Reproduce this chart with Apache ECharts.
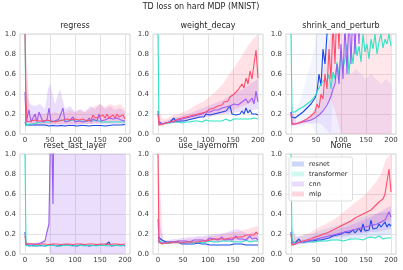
<!DOCTYPE html>
<html><head><meta charset="utf-8">
<script src="https://cdn.jsdelivr.net/npm/echarts@6/dist/echarts.min.js"></script>
<style>html,body{margin:0;padding:0;background:#fff}#c{width:403px;height:270px}</style>
</head><body><div id="c"></div>
<script>
// ---------- data ----------
const TITLE = 'TD loss on hard MDP (MNIST)';
const PANELS = ['regress','weight_decay','shrink_and_perturb','reset_last_layer','use_layernorm','None'];
const MODELS = ['resnet','transformer','cnn','mlp'];
const X_TICKS = [0,50,100,150,200];
// training steps sampled
const X = [0,2,4,8,12,16,20,24,28,32,36,40,44,48,52,56,60,64,68,72,76,80,84,88,92,96,100,104,108,112,116,120,124,128,132,136,140,144,148,152,156,160,164,168,172,176,180,184,188,192,196,200];
// band steps
const BX = [0,10,20,30,40,46,50,60,70,80,90,100,110,120,130,140,150,160,170,180,190,200];

// regress
const regress_resnet = [0.12,0.09,
0.08,0.09,0.085,0.09,0.08,0.09,0.085,0.09,0.08,0.09,
0.085,0.08,0.09,0.085,0.09,0.08,0.09,0.085,0.09,0.08,
0.09,0.085,0.09,0.085,0.09,0.08,0.09,0.085,0.09,0.085,
0.09,0.08,0.09,0.085,0.09,0.085,0.09,0.085,0.09,0.08,
0.09,0.085,0.09,0.09,0.085,0.09,0.095,0.09,0.1,0.095];
const regress_transformer = [1.0,0.08,
0.09,0.1,0.11,0.1,0.12,0.11,0.1,0.12,0.11,0.12,
0.13,0.12,0.11,0.13,0.12,0.13,0.12,0.14,0.12,0.13,
0.12,0.13,0.12,0.14,0.12,0.13,0.12,0.13,0.12,0.13,
0.12,0.13,0.12,0.13,0.12,0.14,0.13,0.12,0.13,0.12,
0.13,0.12,0.13,0.12,0.13,0.12,0.13,0.12,0.13,0.12];
const regress_cnn = [0.42,0.12,
0.14,0.24,0.12,0.14,0.2,0.12,0.22,0.21,0.12,0.13,
0.14,0.26,0.12,0.14,0.13,0.12,0.15,0.13,0.26,0.12,
0.14,0.13,0.12,0.17,0.12,0.14,0.13,0.15,0.12,0.14,
0.13,0.16,0.12,0.15,0.14,0.13,0.2,0.13,0.15,0.14,
0.13,0.16,0.14,0.15,0.13,0.16,0.15,0.14,0.16,0.13];
const regress_mlp = [1.0,0.35,
0.12,0.1,0.13,0.12,0.14,0.12,0.13,0.11,0.13,0.12,
0.14,0.12,0.13,0.15,0.12,0.14,0.13,0.12,0.14,0.13,
0.15,0.13,0.14,0.13,0.15,0.13,0.14,0.12,0.15,0.14,
0.13,0.15,0.14,0.19,0.16,0.15,0.17,0.15,0.19,0.16,
0.2,0.16,0.17,0.19,0.16,0.2,0.17,0.18,0.19,0.15];

// weight_decay
const wd_resnet = [0.23,0.12,
0.1,0.1,0.11,0.11,0.12,0.12,0.11,0.16,0.12,0.13,
0.13,0.14,0.13,0.15,0.14,0.16,0.15,0.17,0.16,0.18,
0.17,0.19,0.17,0.2,0.18,0.19,0.17,0.2,0.18,0.21,
0.19,0.22,0.2,0.23,0.21,0.28,0.2,0.22,0.19,0.21,
0.2,0.23,0.2,0.26,0.21,0.24,0.2,0.22,0.2,0.19];
const wd_transformer = [1.0,0.1,
0.09,0.1,0.1,0.11,0.1,0.11,0.11,0.12,0.11,0.12,
0.12,0.11,0.12,0.12,0.13,0.12,0.12,0.13,0.12,0.13,
0.13,0.12,0.13,0.14,0.13,0.13,0.14,0.13,0.14,0.13,
0.14,0.13,0.14,0.15,0.14,0.13,0.14,0.15,0.14,0.15,
0.14,0.15,0.14,0.15,0.16,0.15,0.14,0.16,0.15,0.15];
const wd_cnn = [0.12,0.1,
0.1,0.1,0.11,0.11,0.12,0.12,0.13,0.12,0.13,0.14,
0.14,0.15,0.14,0.16,0.15,0.17,0.16,0.18,0.17,0.19,
0.19,0.2,0.2,0.22,0.21,0.22,0.21,0.24,0.22,0.24,
0.23,0.26,0.24,0.27,0.26,0.28,0.26,0.3,0.28,0.29,
0.3,0.32,0.3,0.35,0.31,0.33,0.36,0.3,0.43,0.32];
const wd_mlp = [0.2,0.09,
0.09,0.1,0.11,0.11,0.12,0.12,0.13,0.13,0.14,0.15,
0.15,0.16,0.16,0.17,0.18,0.18,0.2,0.19,0.21,0.2,
0.22,0.21,0.23,0.22,0.24,0.25,0.23,0.26,0.27,0.28,
0.3,0.29,0.32,0.34,0.33,0.37,0.35,0.4,0.38,0.44,
0.42,0.5,0.46,0.56,0.5,0.63,0.55,0.7,0.84,0.56];

// shrink_and_perturb
const sp_resnet = [0.22,0.17,
0.15,0.16,0.18,0.19,0.2,0.22,0.24,0.26,0.28,0.3,
0.33,0.36,0.42,0.6,0.48,0.85,0.7,1.0,1.2,1.5,
1.7,1.6,1.9,1.8,2.1,2.0,2.3,2.2,2.5,2.4,
2.6,2.5,2.8,2.7,3.0,2.9,3.1,3.0,3.2,3.1,
3.3,3.2,3.4,3.3,3.5,3.4,3.6,3.5,3.7,3.6];
const sp_transformer = [1.0,0.22,
0.2,0.22,0.21,0.25,0.24,0.27,0.26,0.3,0.29,0.33,
0.35,0.38,0.42,0.46,0.5,0.48,0.55,0.52,0.6,0.45,
0.62,0.55,0.72,0.58,0.8,0.65,0.75,0.9,0.6,0.85,
0.7,0.95,0.78,0.88,0.72,1.0,0.82,0.9,0.75,0.95,
0.85,1.0,0.8,0.92,1.0,0.86,0.95,0.9,1.0,0.88];
const sp_cnn = [0.22,0.1,
0.09,0.1,0.1,0.11,0.11,0.12,0.12,0.13,0.13,0.14,
0.15,0.16,0.17,0.19,0.21,0.23,0.26,0.29,0.33,0.38,
0.45,0.5,0.7,0.5,0.9,0.55,1.1,0.6,1.2,0.7,
1.3,0.8,1.4,0.9,1.6,1.3,1.8,1.5,2.0,1.8,
2.2,2.0,2.4,2.2,2.6,2.4,2.8,2.6,3.0,2.8];
const sp_mlp = [0.2,0.1,
0.1,0.1,0.11,0.11,0.12,0.13,0.14,0.15,0.16,0.18,
0.2,0.22,0.3,0.26,0.4,0.35,0.6,0.45,0.85,0.55,
1.1,0.7,1.3,0.85,1.5,1.1,1.8,1.4,2.0,1.6,
2.2,1.8,2.4,2.0,2.6,2.2,2.8,2.4,3.0,2.6,
2.8,3.2,3.0,3.4,3.2,3.6,3.4,3.8,3.6,4.0];

// reset_last_layer
const rl_resnet = [0.22,0.1,
0.09,0.08,0.09,0.085,0.09,0.08,0.09,0.085,0.09,0.08,
0.085,0.09,0.08,0.09,0.085,0.08,0.09,0.085,0.08,0.09,
0.085,0.09,0.08,0.085,0.09,0.08,0.085,0.09,0.08,0.09,
0.085,0.08,0.09,0.085,0.08,0.09,0.085,0.09,0.08,0.085,
0.09,0.12,0.08,0.09,0.085,0.08,0.09,0.085,0.09,0.08];
const rl_transformer = [1.0,0.08,
0.08,0.09,0.085,0.08,0.09,0.085,0.08,0.09,0.085,0.08,
0.09,0.085,0.08,0.09,0.085,0.08,0.09,0.08,0.085,0.09,
0.08,0.085,0.09,0.08,0.085,0.09,0.08,0.085,0.09,0.08,
0.085,0.09,0.08,0.085,0.09,0.08,0.085,0.09,0.08,0.085,
0.09,0.08,0.085,0.09,0.08,0.085,0.09,0.08,0.085,0.09];
const rl_cnn = [0.1,0.1,
0.1,0.1,0.1,0.1,0.1,0.1,0.1,0.11,0.12,0.13,
0.22,0.3,1.6,0.5,2.5,3.0,2.8,3.3,3.1,3.5,
3.4,3.6,3.2,3.8,3.5,3.7,3.9,3.6,4.0,3.8,
4.1,3.9,4.2,4.0,4.3,4.1,4.4,4.2,4.5,4.3,
4.6,4.4,4.7,4.5,4.8,4.6,4.9,4.7,5.0,4.8];
const rl_mlp = [0.18,0.1,
0.1,0.1,0.095,0.1,0.1,0.095,0.1,0.1,0.095,0.1,
0.1,0.095,0.1,0.1,0.095,0.1,0.1,0.095,0.1,0.1,
0.095,0.1,0.1,0.095,0.1,0.1,0.095,0.1,0.1,0.095,
0.1,0.1,0.095,0.1,0.1,0.095,0.1,0.1,0.095,0.1,
0.1,0.095,0.1,0.1,0.095,0.1,0.1,0.095,0.1,0.1];

// use_layernorm
const ln_resnet = [0.17,0.16,
0.15,0.14,0.13,0.12,0.13,0.12,0.11,0.12,0.11,0.12,
0.11,0.1,0.11,0.1,0.11,0.1,0.11,0.1,0.1,0.11,
0.1,0.1,0.09,0.1,0.1,0.09,0.1,0.09,0.1,0.09,
0.1,0.09,0.1,0.09,0.1,0.09,0.09,0.1,0.09,0.1,
0.09,0.1,0.09,0.09,0.1,0.09,0.1,0.09,0.09,0.09];
const ln_transformer = [0.14,0.15,
0.13,0.12,0.12,0.11,0.12,0.11,0.12,0.12,0.11,0.12,
0.12,0.11,0.12,0.12,0.11,0.12,0.12,0.11,0.12,0.12,
0.12,0.11,0.12,0.12,0.12,0.13,0.12,0.12,0.13,0.12,
0.12,0.13,0.12,0.13,0.12,0.13,0.13,0.12,0.13,0.12,
0.13,0.12,0.13,0.14,0.13,0.12,0.14,0.13,0.14,0.13];
const ln_cnn = [0.35,0.12,
0.11,0.11,0.11,0.11,0.12,0.12,0.11,0.12,0.12,0.13,
0.12,0.13,0.12,0.13,0.14,0.12,0.13,0.14,0.13,0.14,
0.13,0.14,0.15,0.13,0.14,0.16,0.14,0.15,0.16,0.14,
0.15,0.17,0.14,0.16,0.15,0.17,0.14,0.16,0.18,0.15,
0.16,0.15,0.17,0.14,0.16,0.18,0.15,0.17,0.16,0.14];
const ln_mlp = [1.0,0.12,
0.1,0.1,0.1,0.11,0.11,0.11,0.11,0.12,0.11,0.12,
0.12,0.11,0.12,0.12,0.12,0.12,0.13,0.12,0.13,0.12,
0.13,0.13,0.14,0.13,0.14,0.14,0.14,0.15,0.14,0.15,
0.15,0.15,0.16,0.15,0.16,0.16,0.17,0.16,0.17,0.17,
0.18,0.17,0.18,0.19,0.18,0.19,0.2,0.19,0.22,0.2];

// None
const none_resnet = [0.22,0.12,
0.1,0.11,0.12,0.15,0.12,0.13,0.12,0.13,0.13,0.14,
0.13,0.15,0.14,0.15,0.14,0.16,0.15,0.17,0.16,0.17,
0.18,0.17,0.19,0.18,0.2,0.19,0.22,0.2,0.21,0.2,
0.24,0.21,0.22,0.26,0.22,0.3,0.23,0.25,0.24,0.34,
0.25,0.27,0.26,0.3,0.27,0.28,0.32,0.27,0.3,0.28];
const none_transformer = [1.0,0.13,
0.12,0.11,0.12,0.12,0.13,0.12,0.13,0.12,0.13,0.12,
0.13,0.12,0.13,0.13,0.12,0.13,0.14,0.13,0.13,0.14,
0.13,0.14,0.13,0.14,0.14,0.13,0.15,0.14,0.13,0.15,
0.14,0.15,0.14,0.15,0.16,0.14,0.15,0.16,0.14,0.17,
0.15,0.16,0.15,0.18,0.16,0.15,0.17,0.16,0.18,0.16];
const none_cnn = [0.12,0.1,
0.09,0.1,0.11,0.11,0.12,0.12,0.12,0.13,0.13,0.14,
0.14,0.14,0.15,0.15,0.16,0.16,0.17,0.17,0.18,0.18,
0.19,0.19,0.2,0.2,0.21,0.21,0.22,0.22,0.23,0.23,
0.24,0.24,0.25,0.25,0.26,0.27,0.27,0.28,0.28,0.29,
0.29,0.3,0.3,0.31,0.32,0.33,0.34,0.36,0.42,0.37];
const none_mlp = [0.2,0.09,
0.09,0.1,0.11,0.12,0.13,0.13,0.14,0.14,0.15,0.15,
0.16,0.17,0.17,0.18,0.19,0.2,0.21,0.21,0.22,0.23,
0.24,0.25,0.25,0.27,0.28,0.29,0.3,0.31,0.3,0.33,
0.34,0.36,0.35,0.38,0.37,0.4,0.39,0.42,0.41,0.44,
0.45,0.48,0.47,0.52,0.5,0.55,0.6,0.58,0.85,0.62];

// spread bands (lower / upper), on BX
const regress_cnn_lo = [0.1,0.08,0.08,0.08,0.08,0.09,0.08,0.08,0.08,0.08,0.09,0.09,0.09,0.1,0.1,0.1,0.1,0.1,0.1,0.1,0.1,0.1];
const regress_cnn_hi = [0.45,0.3,0.28,0.3,0.25,0.45,0.5,0.3,0.45,0.25,0.28,0.22,0.25,0.22,0.28,0.25,0.3,0.25,0.28,0.24,0.26,0.22];
const regress_mlp_lo = [0.3,0.09,0.09,0.09,0.1,0.1,0.1,0.1,0.1,0.1,0.1,0.1,0.1,0.1,0.1,0.11,0.11,0.11,0.11,0.12,0.12,0.11];
const regress_mlp_hi = [1.0,0.18,0.2,0.2,0.2,0.22,0.2,0.22,0.2,0.22,0.24,0.22,0.24,0.22,0.25,0.28,0.3,0.27,0.3,0.28,0.3,0.25];
const wd_cnn_lo = [0.08,0.09,0.1,0.11,0.12,0.12,0.13,0.14,0.15,0.16,0.17,0.17,0.18,0.19,0.2,0.2,0.21,0.22,0.22,0.23,0.24,0.25];
const wd_cnn_hi = [0.15,0.12,0.14,0.16,0.17,0.18,0.19,0.2,0.22,0.24,0.26,0.28,0.3,0.32,0.34,0.37,0.4,0.42,0.45,0.48,0.52,0.55];
const wd_mlp_lo = [0.08,0.08,0.1,0.11,0.12,0.12,0.13,0.14,0.15,0.16,0.17,0.18,0.19,0.2,0.21,0.22,0.24,0.26,0.28,0.3,0.32,0.35];
const wd_mlp_hi = [0.25,0.15,0.16,0.19,0.2,0.21,0.22,0.24,0.27,0.3,0.32,0.36,0.4,0.45,0.5,0.58,0.65,0.72,0.8,0.88,0.95,1.0];
const sp_resnet_lo = [0.15,0.12,0.12,0.12,0.1,0.05,0,0,0,0,1.1,1.1,1.1,1.1,1.1,1.1,1.1,1.1,1.1,1.1,1.1,1.1];
const sp_resnet_hi = [0.3,0.25,0.35,0.55,0.7,0.85,1.1,1.2,1.2,1.2,1.2,1.2,1.2,1.2,1.2,1.2,1.2,1.2,1.2,1.2,1.2,1.2];
const sp_cnn_lo = [0.08,0.08,0.09,0.1,0.1,0.11,0.11,0.1,0.05,0,0,0,0,0,0,0,0,0,0,0,0,0];
const sp_cnn_hi = [0.25,0.12,0.13,0.15,0.18,0.2,0.23,0.35,0.45,0.55,0.65,0.7,0.65,0.6,0.65,0.6,0.55,0.6,0.55,0.5,0.55,0.5];
const sp_mlp_lo = [0.08,0.09,0.1,0.11,0.13,0.15,0.17,0.22,0.3,0.35,0.2,0,0,0,0,0,0,0,0,0,0,0];
const sp_mlp_hi = [0.3,0.12,0.13,0.15,0.2,0.25,0.3,0.5,0.8,1.1,1.2,1.2,1.2,1.2,1.2,1.2,1.2,1.2,1.2,1.2,1.2,1.2];
const rl_cnn_lo = [0.08,0.09,0.09,0.09,0.1,0.12,0,0,0,0,0,0,0,0,0,0,0,0,0,0,0,0];
const rl_cnn_hi = [0.12,0.11,0.11,0.12,0.15,0.3,1.2,1.2,1.2,1.2,1.2,1.2,1.2,1.2,1.2,1.2,1.2,1.2,1.2,1.2,1.2,1.2];
const ln_cnn_lo = [0.1,0.1,0.1,0.1,0.1,0.1,0.1,0.11,0.11,0.11,0.11,0.12,0.12,0.12,0.12,0.12,0.12,0.12,0.12,0.12,0.12,0.12];
const ln_cnn_hi = [0.4,0.14,0.14,0.15,0.15,0.16,0.16,0.17,0.17,0.18,0.18,0.19,0.2,0.2,0.21,0.22,0.24,0.25,0.22,0.2,0.22,0.2];
const ln_mlp_lo = [0.3,0.1,0.1,0.1,0.1,0.1,0.1,0.1,0.11,0.11,0.11,0.12,0.12,0.12,0.13,0.13,0.14,0.14,0.15,0.15,0.16,0.16];
const ln_mlp_hi = [1.0,0.13,0.13,0.13,0.14,0.14,0.14,0.15,0.15,0.16,0.16,0.17,0.18,0.19,0.2,0.21,0.22,0.22,0.24,0.25,0.27,0.28];
const none_resnet_lo = [0.1,0.09,0.1,0.1,0.11,0.11,0.12,0.12,0.13,0.13,0.14,0.14,0.15,0.15,0.16,0.16,0.17,0.17,0.18,0.18,0.19,0.19];
const none_resnet_hi = [0.3,0.18,0.18,0.2,0.2,0.21,0.22,0.24,0.25,0.27,0.28,0.3,0.32,0.34,0.35,0.37,0.38,0.4,0.4,0.42,0.42,0.44];
const none_cnn_lo = [0.08,0.09,0.1,0.11,0.12,0.12,0.13,0.14,0.15,0.16,0.17,0.17,0.18,0.19,0.2,0.2,0.21,0.22,0.22,0.23,0.24,0.25];
const none_cnn_hi = [0.15,0.12,0.14,0.15,0.17,0.18,0.19,0.2,0.21,0.23,0.24,0.26,0.27,0.29,0.31,0.33,0.35,0.37,0.4,0.42,0.46,0.48];
const none_mlp_lo = [0.1,0.1,0.11,0.12,0.13,0.14,0.14,0.15,0.16,0.17,0.18,0.19,0.2,0.21,0.22,0.23,0.24,0.26,0.28,0.3,0.32,0.34];
const none_mlp_hi = [0.25,0.16,0.18,0.2,0.22,0.24,0.25,0.28,0.3,0.33,0.36,0.4,0.44,0.48,0.52,0.56,0.6,0.66,0.72,0.8,0.95,1.0];

// ---------- assembly ----------
const LINES = [
  [regress_resnet, regress_transformer, regress_cnn, regress_mlp],
  [wd_resnet, wd_transformer, wd_cnn, wd_mlp],
  [sp_resnet, sp_transformer, sp_cnn, sp_mlp],
  [rl_resnet, rl_transformer, rl_cnn, rl_mlp],
  [ln_resnet, ln_transformer, ln_cnn, ln_mlp],
  [none_resnet, none_transformer, none_cnn, none_mlp]
];
const BANDS = [
  [0,'cnn',regress_cnn_lo,regress_cnn_hi,1],[0,'mlp',regress_mlp_lo,regress_mlp_hi,1],
  [1,'cnn',wd_cnn_lo,wd_cnn_hi,1],[1,'mlp',wd_mlp_lo,wd_mlp_hi,1],
  [2,'resnet',sp_resnet_lo,sp_resnet_hi,0.5],[2,'cnn',sp_cnn_lo,sp_cnn_hi,0.6],[2,'mlp',sp_mlp_lo,sp_mlp_hi,0.75],
  [3,'cnn',rl_cnn_lo,rl_cnn_hi,1],
  [4,'cnn',ln_cnn_lo,ln_cnn_hi,1],[4,'mlp',ln_mlp_lo,ln_mlp_hi,1],
  [5,'resnet',none_resnet_lo,none_resnet_hi,1],[5,'cnn',none_cnn_lo,none_cnn_hi,1],[5,'mlp',none_mlp_lo,none_mlp_hi,1]
];
LINES.forEach((p,i)=>p.forEach((a,j)=>{ if(a.length!==X.length) throw new Error('len '+PANELS[i]+' '+MODELS[j]+' '+a.length); }));
BANDS.forEach(b=>{ if(b[2].length!==BX.length||b[3].length!==BX.length) throw new Error('band len '+b[0]+b[1]); });

const LINE_COLORS = {resnet:'#1a47e6', transformer:'#2fe3c2', cnn:'#9b5cf6', mlp:'#ff4d6d'};
const BAND_RGB = {resnet:'26,71,230', transformer:'47,227,194', cnn:'155,92,246', mlp:'255,77,109'};
const BAND_ALPHA = {resnet:0.12, transformer:0.15, cnn:0.2, mlp:0.17};
const LEGEND_COLORS = {resnet:'rgba(26,71,230,0.22)', transformer:'rgba(47,227,194,0.22)', cnn:'rgba(155,92,246,0.22)', mlp:'rgba(255,77,109,0.22)'};

const FONT = 'DejaVu Sans';
const COL_LEFT = [20,153,286], ROW_TOP = [34,154];
const grid = [], xAxis = [], yAxis = [], title = [], series = [];
title.push({text:TITLE, left:201, textAlign:'center', top:3, padding:0,
  textStyle:{fontFamily:FONT, fontSize:8, fontWeight:'normal', color:'#262626'}});
PANELS.forEach((name,i)=>{
  const c = i%3, r = Math.floor(i/3);
  grid.push({left:COL_LEFT[c], top:ROW_TOP[r], width:110, height:100, show:true,
    borderColor:'#d4d4d4', borderWidth:1, containLabel:false});
  title.push({text:name, left:COL_LEFT[c]+55, textAlign:'center', top:ROW_TOP[r]-12, padding:0,
    textStyle:{fontFamily:FONT, fontSize:8, fontWeight:'normal', color:'#262626'}});
  xAxis.push({type:'value', gridIndex:i, min:-10, max:210,
    axisLine:{show:false},
    axisTick:{show:false, customValues:X_TICKS},
    axisLabel:{customValues:X_TICKS, fontFamily:FONT, fontSize:7, color:'#3a3a3a', margin:3},
    splitLine:{show:true, lineStyle:{color:'#e3e3e3', width:1}}});
  yAxis.push({type:'value', gridIndex:i, min:0, max:1, interval:0.2,
    axisLine:{show:false}, axisTick:{show:false},
    axisLabel:{fontFamily:FONT, fontSize:7, color:'#3a3a3a', margin:4, formatter:v=>v.toFixed(1)},
    splitLine:{show:true, lineStyle:{color:'#e3e3e3', width:1}}});
});
// spread bands as polygons placed through the axes' scales
BANDS.forEach(([p,m,lo,hi,f],k)=>{
  const fill = 'rgba('+BAND_RGB[m]+','+(BAND_ALPHA[m]*f)+')';
  series.push({type:'custom', name:'band'+k, xAxisIndex:p, yAxisIndex:p, z:1, silent:true,
    data:[[100,0.5]],
    renderItem:(params, api)=>{
      const clampY = v=>Math.max(0, Math.min(1, v));
      const pts = [];
      for (let i=0;i<BX.length;i++) pts.push(api.coord([BX[i], clampY(hi[i])]));
      for (let i=BX.length-1;i>=0;i--) pts.push(api.coord([BX[i], clampY(lo[i])]));
      return {type:'polygon', shape:{points:pts}, style:{fill:fill, stroke:null}};
    }});
});
LINES.forEach((p,i)=>p.forEach((arr,j)=>{
  const m = MODELS[j];
  series.push({type:'line', name:PANELS[i]+':'+m, xAxisIndex:i, yAxisIndex:i, z:2+j, silent:true,
    symbol:'none', lineStyle:{color:LINE_COLORS[m], width:1.1},
    data:X.map((x,k)=>[x, arr[k]])});
}));
MODELS.forEach(m=>{
  series.push({type:'bar', name:m, xAxisIndex:5, yAxisIndex:5, data:[], itemStyle:{color:LEGEND_COLORS[m]}});
});

const chart = echarts.init(document.getElementById('c'), null, {renderer:'canvas'});
chart.setOption({
  animation:false, backgroundColor:'#ffffff',
  title, grid, xAxis, yAxis, series,
  legend:{data:MODELS, orient:'vertical', left:289, top:157, icon:'rect', itemWidth:12, itemHeight:5, itemGap:2,
    backgroundColor:'rgba(255,255,255,0.85)', borderColor:'#dddddd', borderWidth:1, borderRadius:2,
    padding:[3,5,3,3], selectedMode:false,
    textStyle:{fontFamily:FONT, fontSize:6.5, color:'#262626', lineHeight:8, padding:[0,0,0,0]}}
});
</script></body></html>
